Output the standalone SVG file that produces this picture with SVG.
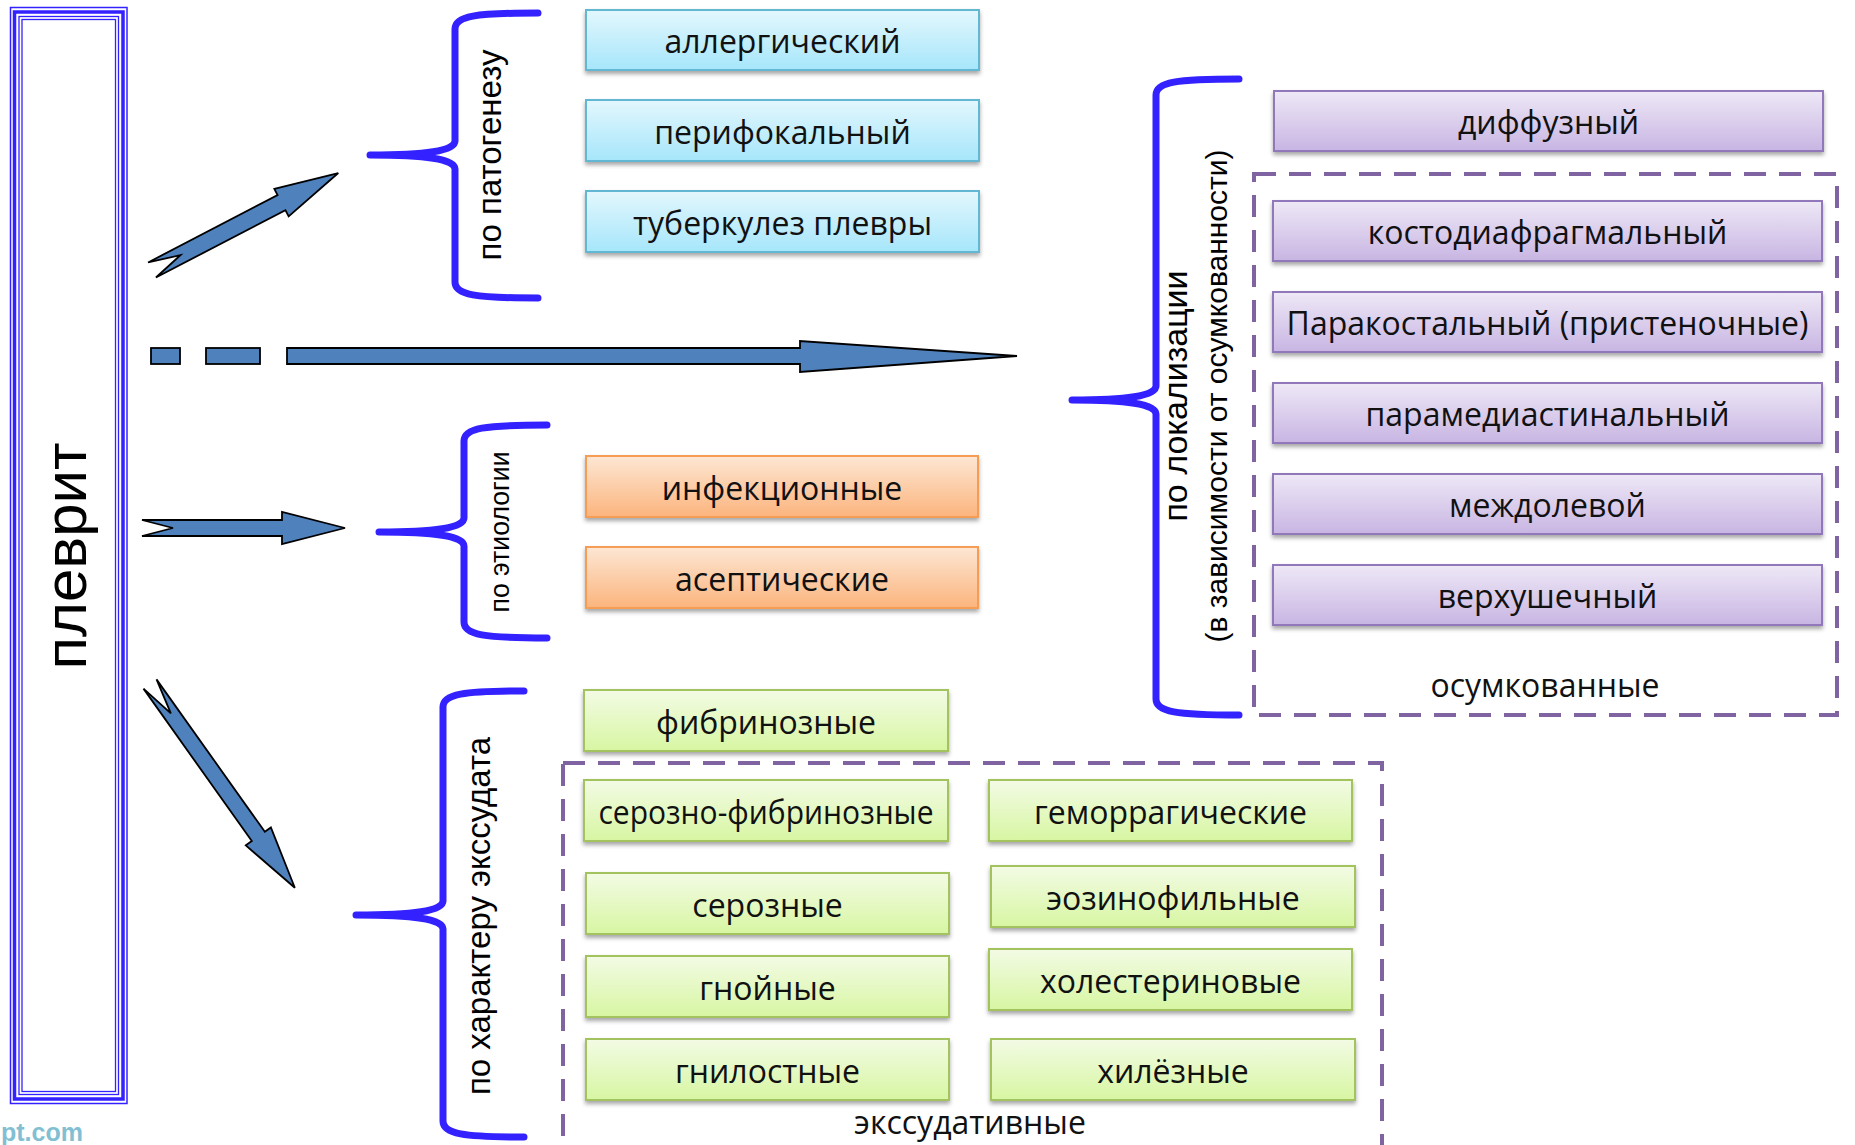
<svg xmlns="http://www.w3.org/2000/svg" width="1855" height="1145" viewBox="0 0 1855 1145">
<defs>
<linearGradient id="gC" x1="0" y1="0" x2="0" y2="1"><stop offset="0" stop-color="#e3f7fd"/><stop offset="1" stop-color="#a6e6fb"/></linearGradient>
<linearGradient id="gO" x1="0" y1="0" x2="0" y2="1"><stop offset="0" stop-color="#fde7d4"/><stop offset="1" stop-color="#fbb47d"/></linearGradient>
<linearGradient id="gP" x1="0" y1="0" x2="0" y2="1"><stop offset="0" stop-color="#eee8f6"/><stop offset="1" stop-color="#c8b5e3"/></linearGradient>
<linearGradient id="gG" x1="0" y1="0" x2="0" y2="1"><stop offset="0" stop-color="#f3fbe5"/><stop offset="1" stop-color="#d7f6a2"/></linearGradient>
<filter id="sh" x="-5%" y="-20%" width="110%" height="150%"><feDropShadow dx="0" dy="3" stdDeviation="2" flood-color="#000" flood-opacity="0.35"/></filter>
</defs>
<style>
.bc rect{fill:url(#gC);stroke:#62b8d3;stroke-width:2;filter:url(#sh)}
.bo rect{fill:url(#gO);stroke:#f59d55;stroke-width:2;filter:url(#sh)}
.bp rect{fill:url(#gP);stroke:#9178bb;stroke-width:2;filter:url(#sh)}
.bg rect{fill:url(#gG);stroke:#a3c35f;stroke-width:2;filter:url(#sh)}
.t{font-family:"Open Sans","Noto Sans",sans-serif;font-size:32px;fill:#111;text-anchor:middle}
.lb{font-family:"Liberation Sans",Arial,sans-serif;fill:#000;text-anchor:middle}
.br{fill:none;stroke:#3322ff;stroke-width:7;stroke-linecap:round;stroke-linejoin:round}
.ar{fill:#4f81bd;stroke:#000;stroke-width:1.8;stroke-linejoin:miter}
.dash{fill:none;stroke:#8064a2;stroke-width:4;stroke-dasharray:22 13}
.fr{fill:none;stroke:#3322ff}
</style>
<rect width="1855" height="1145" fill="#fff"/>

<g id="pleuritis">
<rect class="fr" x="10.5" y="7.5" width="116.5" height="1096" stroke-width="1.5"/>
<rect class="fr" x="14.5" y="12" width="108.5" height="1087" stroke-width="3.5"/>
<rect class="fr" x="19" y="16.5" width="99.5" height="1078" stroke-width="1.3"/>
<rect class="fr" x="22" y="19.5" width="93.5" height="1072" stroke-width="1.3"/>
<text class="lb" font-size="60" transform="translate(86,556) rotate(-90)">плеврит</text>
</g>

<g id="connectors">
<path class="ar" transform="translate(152,270) rotate(-27.5)" d="M0,-8.5 L146,-8.5 L146,-15.5 L210,0 L146,15.5 L146,8.5 L0,8.5 L32,0 Z"/>
<rect class="ar" x="151" y="348" width="29" height="16"/>
<rect class="ar" x="206" y="348" width="54" height="16"/>
<path class="ar" d="M287,348 L800,348 L800,341 L1017,356 L800,372 L800,364 L287,364 Z"/>
<path class="ar" d="M142,520 L282,520 L282,512 L345,528 L282,544 L282,536 L142,536 L173,528 Z"/>
<path class="ar" transform="translate(150,684) rotate(54.6)" d="M0,-8 L187,-8 L187,-15.4 L250,0 L187,15.4 L187,8 L0,8 L36,0 Z"/>
<path class="br" d="M538,13 C475,13 455,16 455,29 L455,141 C455,151 425,155 370,155 C425,155 455,159 455,169 L455,282 C455,295 475,298 538,298"/>
<path class="br" d="M547,425 C484,425 464,428 464,441 L464,518 C464,528 434,532 379,532 C434,532 464,536 464,546 L464,622 C464,635 484,638 547,638"/>
<path class="br" d="M524,691 C463,691 443,694 443,707 L443,901 C443,911 413,915 356,915 C413,915 443,919 443,929 L443,1121 C443,1134 463,1137 524,1137"/>
<path class="br" d="M1239,79 C1176,79 1156,82 1156,95 L1156,386 C1156,396 1126,400 1072,400 C1126,400 1156,404 1156,414 L1156,699 C1156,712 1176,715 1239,715"/>
</g>

<g id="label-pathogenesis"><text class="lb" font-size="33" transform="translate(501,155) rotate(-90)">по патогенезу</text></g>
<g id="label-etiology"><text class="lb" font-size="28" textLength="161" lengthAdjust="spacingAndGlyphs" transform="translate(509,532) rotate(-90)">по этиологии</text></g>
<g id="label-exudate"><text class="lb" font-size="33" transform="translate(490,916) rotate(-90)">по характеру экссудата</text></g>
<g id="label-localization">
<text class="lb" font-size="34" transform="translate(1187,396) rotate(-90)">по локализации</text>
<text class="lb" font-size="30" transform="translate(1227,396) rotate(-90)">(в зависимости от осумкованности)</text>
</g>

<g id="group-encapsulated"><rect class="dash" x="1254" y="174" width="583" height="541"/><text class="t" x="1545" y="697">осумкованные</text></g>
<g id="group-exudative"><rect class="dash" x="563" y="763" width="819" height="400"/><text class="t" x="970" y="1134">экссудативные</text></g>

<g id="n-allergic" class="bc"><rect x="586" y="10" width="393" height="60"/><text class="t" x="782.5" y="52.5">аллергический</text></g>
<g id="n-perifocal" class="bc"><rect x="586" y="100" width="393" height="61"/><text class="t" x="782.5" y="143.5">перифокальный</text></g>
<g id="n-tb" class="bc"><rect x="586" y="191" width="393" height="61"/><text class="t" x="782.5" y="234.5">туберкулез плевры</text></g>

<g id="n-infectious" class="bo"><rect x="586" y="456" width="392" height="61"/><text class="t" x="782" y="499.5">инфекционные</text></g>
<g id="n-aseptic" class="bo"><rect x="586" y="547" width="392" height="61"/><text class="t" x="782" y="590.5">асептические</text></g>

<g id="n-diffuse" class="bp"><rect x="1274" y="91" width="549" height="60"/><text class="t" x="1548.5" y="133.5">диффузный</text></g>
<g id="n-costo" class="bp"><rect x="1273" y="201" width="549" height="60"/><text class="t" x="1547.5" y="243.5">костодиафрагмальный</text></g>
<g id="n-paracostal" class="bp"><rect x="1273" y="292" width="549" height="60"/><text class="t" x="1547.5" y="334.5">Паракостальный (пристеночные)</text></g>
<g id="n-paramed" class="bp"><rect x="1273" y="383" width="549" height="60"/><text class="t" x="1547.5" y="425.5">парамедиастинальный</text></g>
<g id="n-interlobar" class="bp"><rect x="1273" y="474" width="549" height="60"/><text class="t" x="1547.5" y="516.5">междолевой</text></g>
<g id="n-apical" class="bp"><rect x="1273" y="565" width="549" height="60"/><text class="t" x="1547.5" y="607.5">верхушечный</text></g>

<g id="n-fibrinous" class="bg"><rect x="584" y="690" width="364" height="61"/><text class="t" x="766" y="733.5">фибринозные</text></g>
<g id="n-serofibrinous" class="bg"><rect x="584" y="780" width="364" height="61"/><text class="t" x="766" y="823.5" textLength="335" lengthAdjust="spacingAndGlyphs">серозно-фибринозные</text></g>
<g id="n-hemorrhagic" class="bg"><rect x="989" y="780" width="363" height="61"/><text class="t" x="1170.5" y="823.5">геморрагические</text></g>
<g id="n-serous" class="bg"><rect x="586" y="873" width="363" height="61"/><text class="t" x="767.5" y="916.5">серозные</text></g>
<g id="n-eosinophilic" class="bg"><rect x="991" y="866" width="364" height="61"/><text class="t" x="1173" y="909.5">эозинофильные</text></g>
<g id="n-purulent" class="bg"><rect x="586" y="956" width="363" height="61"/><text class="t" x="767.5" y="999.5">гнойные</text></g>
<g id="n-cholesterol" class="bg"><rect x="989" y="949" width="363" height="61"/><text class="t" x="1170.5" y="992.5">холестериновые</text></g>
<g id="n-putrid" class="bg"><rect x="586" y="1039" width="363" height="61"/><text class="t" x="767.5" y="1082.5">гнилостные</text></g>
<g id="n-chylous" class="bg"><rect x="991" y="1039" width="364" height="61"/><text class="t" x="1173" y="1082.5">хилёзные</text></g>

<text x="1" y="1141" font-family="Liberation Sans,Arial,sans-serif" font-weight="bold" font-size="25" fill="#82bfd2">pt.com</text>
</svg>
